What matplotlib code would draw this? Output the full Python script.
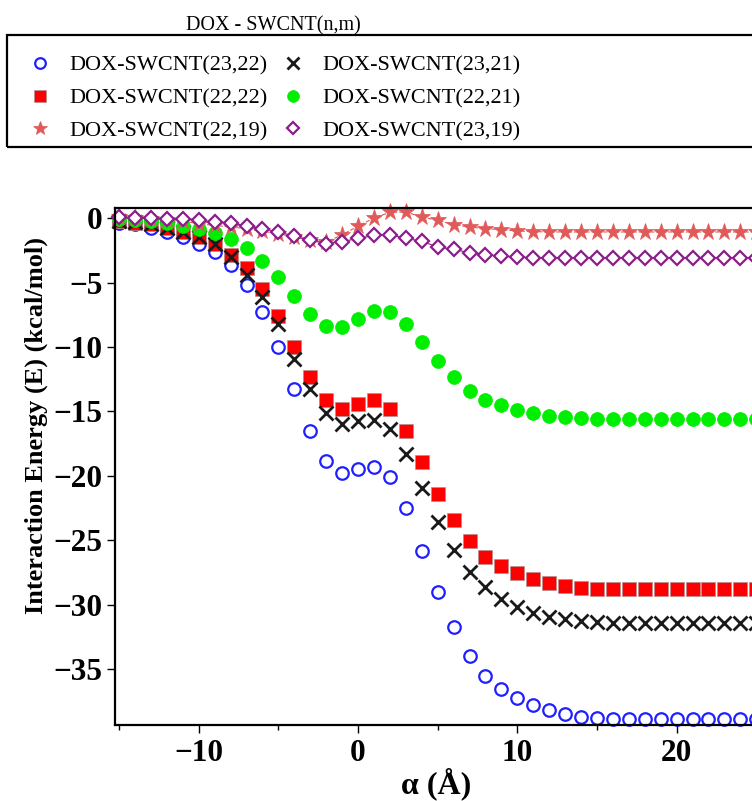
import matplotlib.pyplot as plt
from matplotlib.patches import Rectangle

# displacement along the tube axis (Å)
alpha = list(range(-15, 26))

# interaction energies (kcal/mol)
e_23_22 = [-0.35, -0.5, -0.8, -1.08, -1.47, -1.98, -2.63, -3.67, -5.17, -7.29,
           -10.0, -13.3, -16.5, -18.86, -19.8, -19.5, -19.3, -20.1, -22.5, -25.8,
           -29.0, -31.75, -33.95, -35.5, -36.56, -37.26, -37.78, -38.2, -38.47, -38.68,
           -38.8, -38.85, -38.88, -38.9, -38.9, -38.9, -38.9, -38.9, -38.9, -38.9, -38.9]
e_22_22 = [-0.2, -0.35, -0.5, -0.8, -1.08, -1.47, -1.98, -2.84, -3.87, -5.53,
           -7.6, -10.0, -12.37, -14.13, -14.78, -14.39, -14.13, -14.78, -16.53, -18.96,
           -21.37, -23.43, -25.08, -26.28, -27.0, -27.57, -28.03, -28.34, -28.55, -28.68,
           -28.75, -28.8, -28.8, -28.8, -28.8, -28.8, -28.8, -28.8, -28.8, -28.8, -28.8]
e_23_21 = [-0.2, -0.3, -0.5, -0.75, -1.05, -1.5, -2.05, -3.0, -4.44, -6.12,
           -8.19, -10.9, -13.3, -15.16, -15.94, -15.76, -15.68, -16.4, -18.34, -20.98,
           -23.57, -25.76, -27.44, -28.65, -29.58, -30.15, -30.62, -30.93, -31.13, -31.25,
           -31.32, -31.38, -31.38, -31.38, -31.38, -31.38, -31.38, -31.38, -31.38, -31.38, -31.38]
e_22_21 = [-0.1, -0.15, -0.25, -0.4, -0.6, -0.82, -1.13, -1.6, -2.33, -3.33,
           -4.57, -6.05, -7.47, -8.37, -8.45, -7.85, -7.23, -7.28, -8.24, -9.6,
           -11.12, -12.3, -13.4, -14.08, -14.52, -14.9, -15.16, -15.35, -15.45, -15.5,
           -15.6, -15.6, -15.6, -15.6, -15.6, -15.6, -15.6, -15.6, -15.6, -15.6, -15.6]
e_22_19 = [0.08, 0.0, -0.05, -0.18, -0.25, -0.43, -0.57, -0.7, -0.82, -1.03,
           -1.21, -1.47, -1.73, -1.86, -1.3, -0.63, 0.0, 0.45, 0.47, 0.08,
           -0.18, -0.51, -0.7, -0.82, -0.9, -1.0, -1.05, -1.08, -1.08, -1.08,
           -1.08, -1.08, -1.08, -1.08, -1.08, -1.08, -1.08, -1.08, -1.08, -1.08, -1.08]
e_23_19 = [0.05, 0.0, 0.0, -0.05, -0.1, -0.18, -0.3, -0.35, -0.62, -0.82,
           -1.08, -1.4, -1.73, -1.98, -1.83, -1.58, -1.35, -1.29, -1.57, -1.8,
           -2.25, -2.43, -2.69, -2.84, -2.97, -3.02, -3.07, -3.07, -3.07, -3.07,
           -3.07, -3.07, -3.07, -3.07, -3.07, -3.07, -3.07, -3.07, -3.07, -3.07, -3.07]

star_col = '#e05a5a'
purple = '#8b1c8b'

fig = plt.figure(figsize=(7.52, 8.01), dpi=100)
# axes run past the right edge of the figure on purpose
ax = fig.add_axes([115 / 752, 1 - 725 / 801, 646 / 752, 517 / 801])

kw = dict(ls='none', clip_on=False)
h1, = ax.plot(alpha, e_23_22, marker='o', ms=9, mfc='none', mec='#1f1fff', mew=1.6, **kw)
h2, = ax.plot(alpha, e_22_22, marker='s', ms=9.5, mfc='#ff0000', mec='#b09090', mew=0.5, **kw)
h4, = ax.plot(alpha, e_23_21, marker='x', ms=9.5, mec='#1a1a1a', mew=2, **kw)
h5, = ax.plot(alpha, e_22_21, marker='o', ms=10, mfc='#00ee00', mec='#00ee00', mew=0.5, **kw)
ax.plot(alpha, e_22_19, ls='--', lw=0.8, color=star_col, clip_on=False)
h3, = ax.plot(alpha, e_22_19, marker='*', ms=12.5, mfc=star_col, mec=star_col, mew=0.5, **kw)
ax.plot(alpha, e_23_19, ls='-', lw=0.8, color=purple, clip_on=False)
h6, = ax.plot(alpha, e_23_19, marker='D', ms=7.5, mfc='white', mec=purple, mew=1.6, **kw)

ax.set_xlim(-15.26, 25.3)
ax.set_ylim(-39.33, 0.78)
ax.set_xticks([-10, 0, 10, 20])
ax.set_xticks([-15, -5, 5, 15, 25], minor=True)
ax.set_yticks([0, -5, -10, -15, -20, -25, -30, -35])

for s in ax.spines.values():
    s.set_linewidth(1.6)
ax.tick_params(axis='both', which='major', length=6, width=1, direction='out', pad=3)
ax.tick_params(axis='x', which='major', pad=4)
ax.tick_params(axis='x', which='minor', length=3.5, width=1, direction='out')
ax.tick_params(top=False, right=False)

tick_font = dict(family='Liberation Serif', weight='bold', size=22.5)
for lab in ax.get_xticklabels() + ax.get_yticklabels():
    lab.set_fontproperties(tick_font)

ax.set_ylabel('Interaction Energy (E) (kcal/mol)', family='Liberation Serif',
              weight='bold', size=19)
ax.set_xlabel('α (Å)', family='Liberation Serif', weight='bold', size=23)
ax.yaxis.set_label_coords(-0.103, 0.58)
ax.xaxis.set_label_coords((436 - 115) / 646, -0.083)

# legend: title sits above a plain box
fig.text(273 / 752, 1 - 26 / 801, 'DOX - SWCNT(n,m)', family='Liberation Serif',
         size=14.5, ha='center', va='center')
fig.add_artist(Rectangle((7 / 752, 1 - 147 / 801), 1.0, 112 / 801, transform=fig.transFigure,
                         fill=False, ec='black', lw=1.6, clip_on=False))

handles = [h1, h2, h3, h4, h5, h6]
labels = ['DOX-SWCNT(23,22)', 'DOX-SWCNT(22,22)', 'DOX-SWCNT(22,19)',
          'DOX-SWCNT(23,21)', 'DOX-SWCNT(22,21)', 'DOX-SWCNT(23,19)']
fig.legend(handles, labels, ncol=2, loc='upper left',
           bbox_to_anchor=(29 / 752, 1 - 55 / 801), frameon=False, borderpad=0,
           borderaxespad=0, prop=dict(family='Liberation Serif', size=16), markerscale=0.85,
           handlelength=1.0, handletextpad=0.8, columnspacing=0.68, labelspacing=0.55)

fig.savefig('out.png', dpi=100)
